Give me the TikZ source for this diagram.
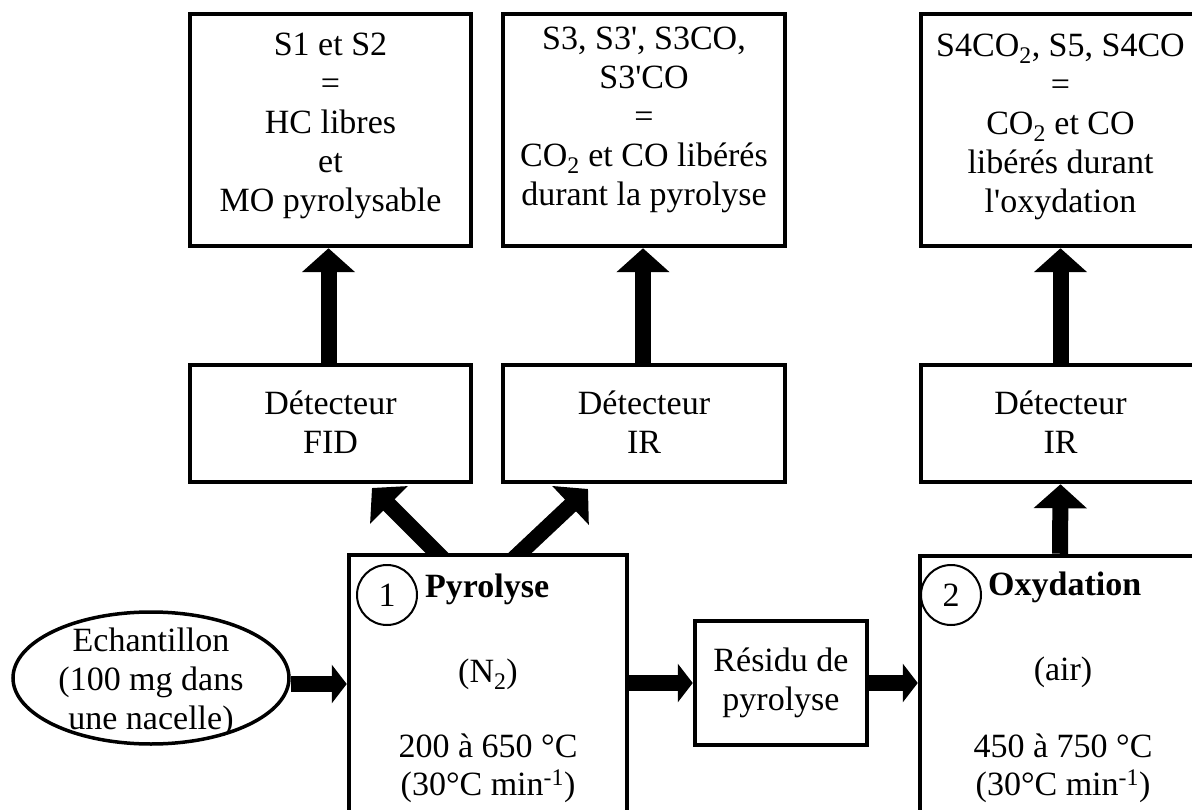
\documentclass[tikz,border=0pt]{standalone}
\usepackage{fontspec}
\setmainfont{Liberation Serif}
\usetikzlibrary{arrows.meta,shapes.geometric,calc,backgrounds}
\newcommand{\apo}{\textquotesingle}
\begin{document}
\begin{tikzpicture}[x=1pt,y=-1pt,
  every node/.style={font=\fontsize{34}{39}\selectfont},
  box/.style={draw, line width=4.5pt, rectangle, inner sep=0pt, fill=white},
  txt/.style={align=center, inner sep=0pt},
  bigarrow/.style={line width=16pt, -{Triangle[length=24pt,width=52pt]}},
  harrow/.style={line width=16pt, -{Triangle[length=15pt,width=38pt]}},
  num/.style={draw, circle, line width=2pt, minimum size=60pt, inner sep=0pt}]
\useasboundingbox (0,0) rectangle (1192,810);

% top result boxes
\node[box, minimum width=281pt, minimum height=232pt] (A) at (330.5,130) {};
\node[box, minimum width=282pt, minimum height=232pt] (B) at (644,130) {};
\node[box, minimum width=279pt, minimum height=232pt] (C) at (1060.5,130) {};
\node[txt] (At) at (330.5,126) {S1 et S2\\=\\HC libres\\et\\MO pyrolysable};
\node[txt] (Bt) at (644,120) {S3, S3\apo, S3CO,\\S3\apo CO\\=\\CO\textsubscript{2} et CO libérés\\durant la pyrolyse};
\node[txt] (Ct) at (1060.5,127) {S4CO\textsubscript{2}, S5, S4CO\\=\\CO\textsubscript{2} et CO\\libérés durant\\l\apo oxydation};

% detectors
\node[box, minimum width=281pt, minimum height=117pt] (D1) at (330.5,423.5) {};
\node[box, minimum width=282pt, minimum height=117pt] (D2) at (644,423.5) {};
\node[box, minimum width=279pt, minimum height=117pt] (D3) at (1060.5,423.5) {};
\node[txt] (D1t) at (330.5,422) {Détecteur\\FID};
\node[txt] (D2t) at (644,422) {Détecteur\\IR};
\node[txt] (D3t) at (1060.5,422) {Détecteur\\IR};

% process boxes
\node[box, minimum width=278pt, minimum height=285pt] (P) at (488,697.5) {};
\node[box, minimum width=280pt, minimum height=284pt] (O) at (1060,698) {};
\node[box, minimum width=172pt, minimum height=124pt] (R) at (781,683) {};
\node[txt] (Rt) at (781,683) {Résidu de\\pyrolyse};
\node[draw, ellipse, line width=3.5pt, minimum width=276pt, minimum height=132pt, inner sep=0pt] (E) at (151,678) {};
\node[txt] (Et) at (151,682) {Echantillon\\(100 mg dans\\une nacelle)};

% inside pyrolyse
\node[num] (n1) at (387,595) {1};
\node[inner sep=0pt, anchor=base west, font=\fontsize{34}{39}\selectfont\bfseries] (Pt) at (425,597) {Pyrolyse};
\node[inner sep=0pt, anchor=base] (Pn) at (488,682) {(N\textsubscript{2})};
\node[inner sep=0pt, anchor=base] (Pa) at (488,757) {200 à 650 °C};
\node[inner sep=0pt, anchor=base] (Pb) at (488,795) {(30°C min\textsuperscript{-1})};

% inside oxydation
\node[num] (n2) at (951,595) {2};
\node[inner sep=0pt, anchor=base west, font=\fontsize{34}{39}\selectfont\bfseries] (Ot) at (988,595) {Oxydation};
\node[inner sep=0pt, anchor=base] (Oa) at (1063,680) {(air)};
\node[inner sep=0pt, anchor=base] (Ob) at (1063,757) {450 à 750 °C};
\node[inner sep=0pt, anchor=base] (Oc) at (1063,795) {(30°C min\textsuperscript{-1})};

% connectors
\coordinate (tl) at (372,488);
\coordinate (tr) at (588,489);
\begin{pgfonlayer}{background}
\draw[bigarrow] ($(P.north west)+(98,8)$) -- (tl);
\draw[bigarrow] ($(P.north west)+(165,8)$) -- (tr);
\end{pgfonlayer}
\draw[bigarrow] ([xshift=-2pt]D1.north) -- ([xshift=-2pt]A.south);
\draw[bigarrow] ([xshift=-1pt]D2.north) -- ([xshift=-1pt]B.south);
\draw[bigarrow] (D3.north) -- (C.south);
\draw[bigarrow] (O.north) -- (D3.south);
\draw[harrow] ([yshift=-6pt]E.east) -- ([yshift=-6pt]E.east -| P.west);
\draw[harrow] (R.west -| P.east) -- (R.west);
\draw[harrow] (R.east) -- (R.east -| O.west);
\end{tikzpicture}
\end{document}
